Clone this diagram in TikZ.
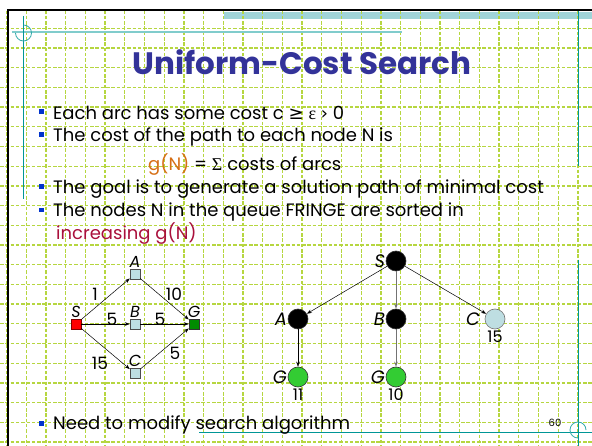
\documentclass[tikz,border=0pt]{standalone}
\usepackage{fontspec}
\setmainfont{Poppins}
\newfontfamily\symfont{DejaVu Sans}
\newfontfamily\serifsym{Liberation Serif}
\usetikzlibrary{arrows.meta,positioning}

\definecolor{gridgreen}{RGB}{182,214,64}
\definecolor{bandteal}{RGB}{160,212,216}
\definecolor{lineteal}{RGB}{128,204,204}
\definecolor{darkteal}{RGB}{0,150,150}
\definecolor{titleblue}{RGB}{51,51,153}
\definecolor{bulletblue}{RGB}{0,51,204}
\definecolor{gorange}{RGB}{214,110,20}
\definecolor{crimson}{RGB}{170,16,60}
\definecolor{paleblue}{RGB}{190,222,226}
\definecolor{treegreen}{RGB}{51,204,51}
\definecolor{goalgreen}{RGB}{0,140,0}

\tikzset{
  gridline/.style={gridgreen, line width=1.3pt, dash pattern=on 3.5pt off 1.8pt},
  bodytext/.style={anchor=base west, inner sep=0pt, font=\fontsize{18}{20}\selectfont},
  bulletmark/.style={fill=bulletblue, minimum size=4.5pt, inner sep=0pt},
  sqnode/.style={draw=black!70, line width=0.5pt, minimum size=10pt, inner sep=0pt},
  circnode/.style={circle, draw=black!80, line width=0.6pt, minimum size=20pt, inner sep=0pt},
  letter/.style={font=\fontsize{16}{16}\selectfont\itshape, inner sep=1pt},
  treeletter/.style={font=\fontsize{18}{18}\selectfont\itshape, inner sep=0.5pt},
  weight/.style={font=\fontsize{17}{17}\selectfont, inner sep=0pt},
  cost/.style={font=\fontsize{16}{16}\selectfont, inner sep=0pt},
  arr/.style={-{Stealth[length=5pt,width=3.6pt]}, line width=0.5pt},
  greyarr/.style={-{Stealth[length=5pt,width=3.6pt]}, line width=1pt, black!55},
}

\begin{document}
\begin{tikzpicture}[x=1pt, y=-1pt]
\useasboundingbox (0,0) rectangle (592,446);
\fill[white] (0,0) rectangle (592,446);

% teal band along the top edge
\fill[bandteal] (224,12) rectangle (592,18.7);

% dashed graph-paper grid
\begin{scope}
  \clip (0,10) rectangle (592,446);
  \foreach \k in {-1,...,28} \draw[gridline] ({26.3+19.7*\k},0) -- ++(0,446);
  \foreach \k in {-1,...,21} \draw[gridline] (0,{28.3+19.7*\k}) -- ++(592,0);
\end{scope}

% slide frame
\draw[line width=2.5pt] (7.8,446) -- (7.8,9.8) -- (592,9.8);

% decorative teal rules and rings
\draw[lineteal, line width=2pt] (12,32.5) -- (402,32.5);
\draw[darkteal, line width=0.9pt] (23.3,16) -- (23.3,199);
\draw[darkteal!80, line width=0.8pt] (23.5,33) ++(0,-8) arc[start angle=-90, end angle=180, radius=8];
\draw[darkteal, line width=0.9pt] (578.6,11) -- (578.6,166);
\draw[darkteal, line width=0.9pt] (578.6,260) -- (578.6,446);
\draw[darkteal, line width=0.9pt] (199,432.5) -- (592,432.5);
\draw[darkteal!80, line width=0.8pt] (578,430) ++(0,8) arc[start angle=90, end angle=360, radius=8];

% title
\node[anchor=base, inner sep=0pt, font=\fontsize{31}{31}\selectfont\bfseries, text=titleblue] (title) at (302,75) {Uniform-Cost Search};

% bullet list
\node[bulletmark] (b1) at (41.7,111.7) {};
\node[bodytext] (t1) at (53,119.3) {Each arc has some cost c {\symfont ≥} {\serifsym ε} {\symfont ›} 0};
\node[bulletmark] (b2) at (41.7,134.3) {};
\node[bodytext] (t2) at (53,141.5) {The cost of the path to each node N is};
\node[bodytext] (t3) at (148,171) {{\color{gorange}g(N)} = {\serifsym Σ} costs of arcs};
\node[bulletmark] (b3) at (41.7,186.7) {};
\node[bodytext] (t4) at (53,194) {The goal is to generate a solution path of minimal cost};
\node[bulletmark] (b4) at (41.7,210) {};
\node[bodytext] (t5) at (53,217) {The nodes N in the queue FRINGE are sorted in};
\node[bodytext, text=crimson] (t6) at (56,240) {increasing g(N)};
\node[bulletmark] (b5) at (41.7,423.3) {};
\node[bodytext] (t7) at (53,429.3) {Need to modify search algorithm};
\node[anchor=base, inner sep=0pt, font=\fontsize{10}{10}\selectfont] (pg) at (555,426.5) {60};

% state graph with arc costs
\node[sqnode, fill=red, draw=red!50!black] (S) at (76,324) {};
\node[sqnode, fill=paleblue] (A) at (135,274) {};
\node[sqnode, fill=paleblue] (B) at (135,324) {};
\node[sqnode, fill=paleblue] (C) at (135,373.5) {};
\node[sqnode, fill=goalgreen, draw=black!80] (G) at (194,324) {};
\node[letter, above=0pt of S] (lS) {S};
\node[letter, above=0pt of A] (lA) {A};
\node[letter, above=0pt of B] (lB) {B};
\node[letter, above=0pt of C] (lC) {C};
\node[letter, above=0pt of G] (lG) {G};
\draw[arr] (S) -- (A);
\draw[arr] (S) -- (B);
\draw[arr] (S) -- (C);
\draw[arr] (A) -- (G);
\draw[arr] (B) -- (G);
\draw[arr] (C) -- (G);
\node[weight] (w1) at (95,294) {1};
\node[weight] (w2) at (174,294) {10};
\node[weight] (w3) at (112,319) {5};
\node[weight] (w4) at (160,319) {5};
\node[weight] (w5) at (100,363) {15};
\node[weight] (w6) at (175,353) {5};

% search tree
\node[circnode, fill=black] (tS) at (396,261) {};
\node[circnode, fill=black] (tA) at (298,319) {};
\node[circnode, fill=black] (tB) at (396,319) {};
\node[circnode, fill=paleblue, draw=black!55] (tC) at (495,319) {};
\node[circnode, fill=treegreen] (tG1) at (298,377) {};
\node[circnode, fill=treegreen] (tG2) at (396,377) {};
\node[treeletter, left=0pt of tS] (ltS) {S};
\node[treeletter, left=0pt of tA] (ltA) {A};
\node[treeletter, left=0pt of tB] (ltB) {B};
\node[treeletter, left=4pt of tC] (ltC) {C};
\node[treeletter, left=0pt of tG1] (ltG1) {G};
\node[treeletter, left=0pt of tG2] (ltG2) {G};
\node[cost, below=1.5pt of tC] (cC) {15};
\node[cost, below=1.5pt of tG1] (cG1) {11};
\node[cost, below=1.5pt of tG2] (cG2) {10};
\draw[arr] (tS) -- (tA);
\draw[greyarr] (tS) -- (tB);
\draw[arr] (tS) -- (tC);
\draw[arr] (tA) -- (tG1);
\draw[greyarr] (tB) -- (tG2);
\end{tikzpicture}
\end{document}
